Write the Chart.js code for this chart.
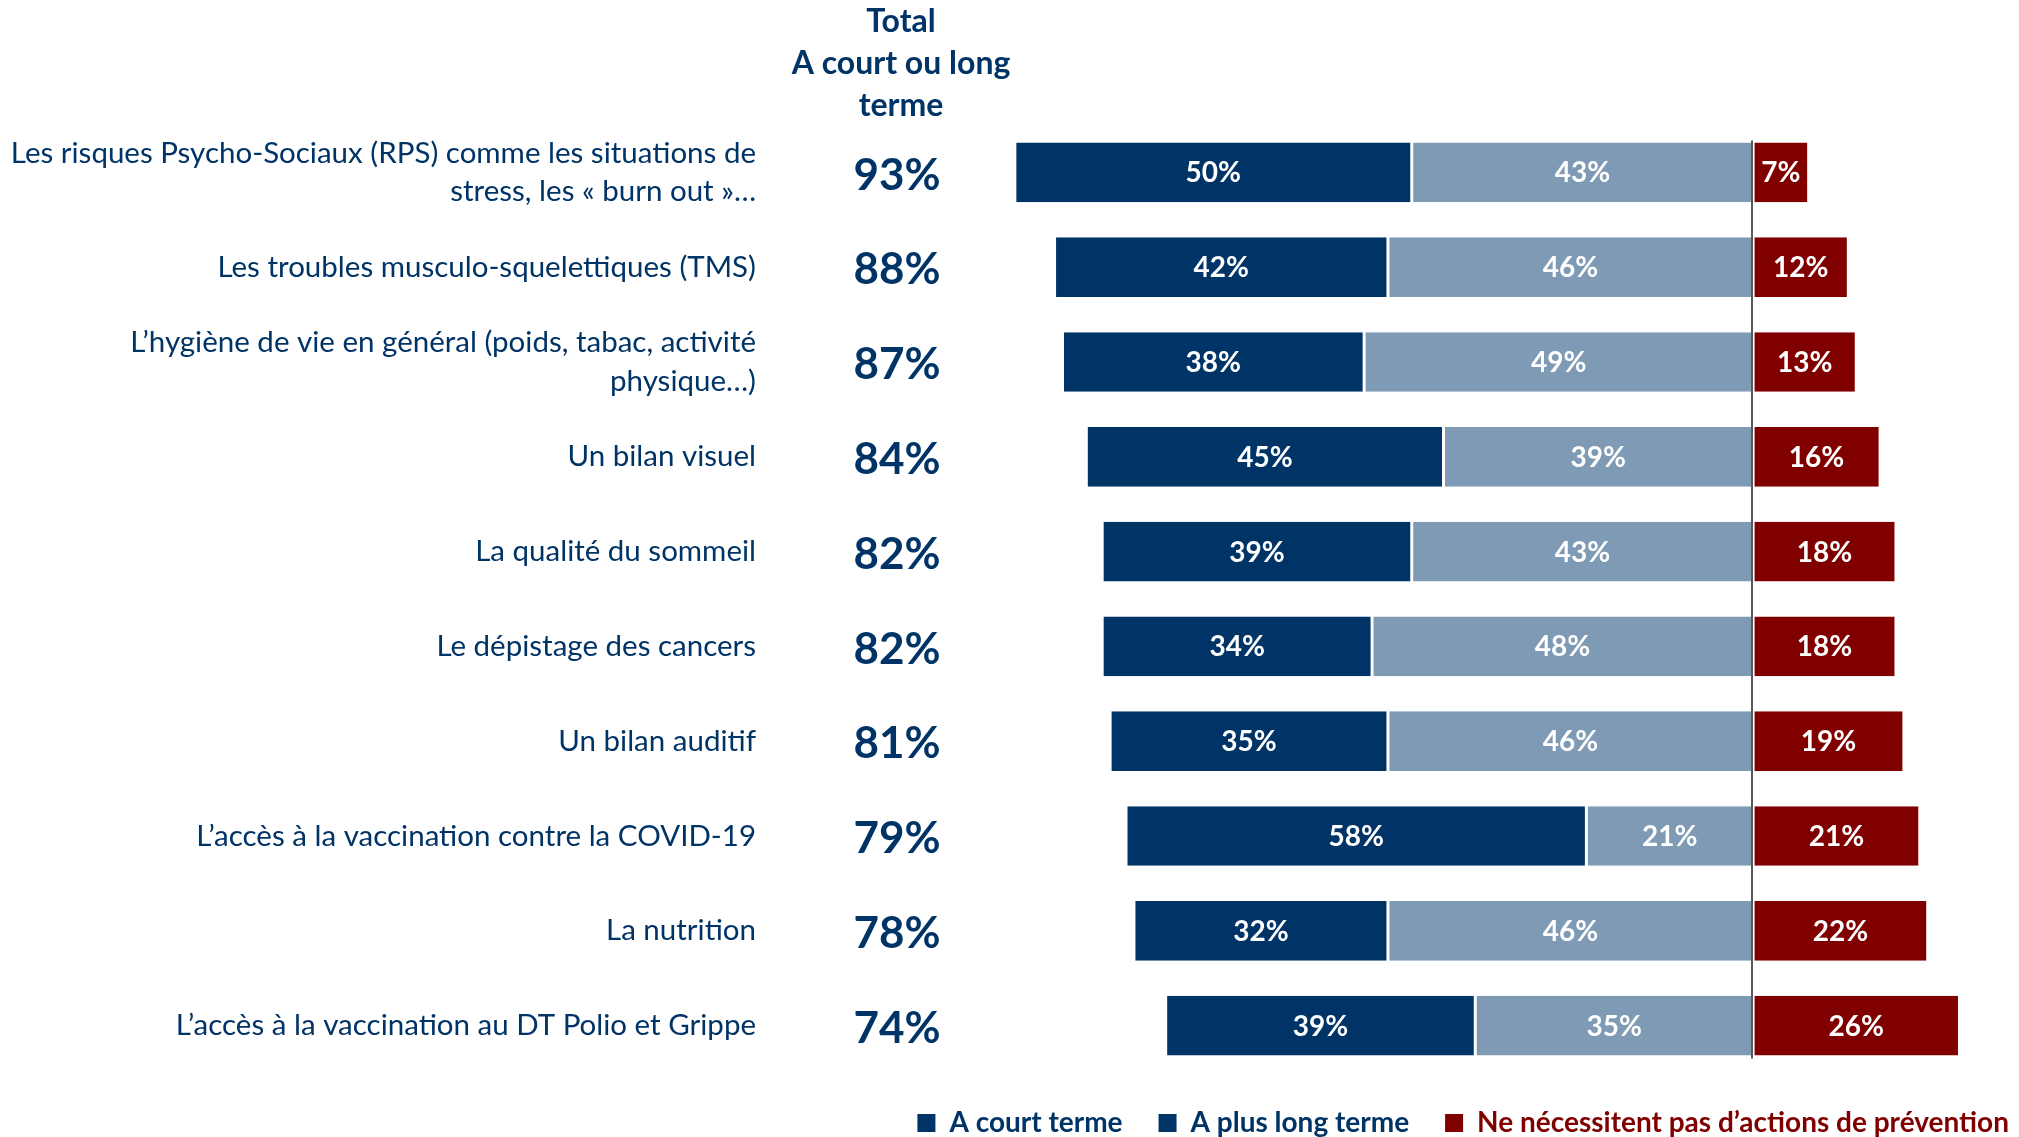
<!DOCTYPE html>
<html>
<head>
<meta charset="utf-8">
<script src="https://cdn.jsdelivr.net/npm/chart.js@4/dist/chart.umd.min.js"></script>
<style>
  html, body { margin: 0; padding: 0; background: #fff; }
  #wrap { width: 2019px; height: 1137px; position: relative; }
</style>
</head>
<body>
<div id="wrap"><canvas id="myChart"></canvas></div>
<script>
// data
const categories = [
  ["Les risques Psycho-Sociaux (RPS) comme les situations de", "stress, les « burn out »…"],
  "Les troubles musculo-squelettiques (TMS)",
  ["L’hygiène de vie en général (poids, tabac, activité", "physique…)"],
  "Un bilan visuel",
  "La qualité du sommeil",
  "Le dépistage des cancers",
  "Un bilan auditif",
  "L’accès à la vaccination contre la COVID-19",
  "La nutrition",
  "L’accès à la vaccination au DT Polio et Grippe"
];
const courtTerme = [50, 42, 38, 45, 39, 34, 35, 58, 32, 39];
const longTerme  = [43, 46, 49, 39, 43, 48, 46, 21, 46, 35];
const pasPrevention = [7, 12, 13, 16, 18, 18, 19, 21, 22, 26];
const totals = [93, 88, 87, 84, 82, 82, 81, 79, 78, 74];
const headerLines = ["Total", "A court ou long", "terme"];
const seriesNames = ["A court terme", "A plus long terme", "Ne nécessitent pas d’actions de prévention"];

const NAVY = "#003366";
const LIGHT = "#7f9ab4";
const RED = "#800000";
const FONT = "Lato, 'Open Sans', sans-serif";

// bars left of zero are drawn as negatives, light one first so it sits next to the line
const neg = a => a.map(v => -v);

const barLabels = {
  id: 'barLabels',
  afterDatasetsDraw(chart) {
    const ctx = chart.ctx;
    ctx.save();
    ctx.font = "bold 28px " + FONT;
    ctx.fillStyle = "#fff";
    ctx.textAlign = "center";
    ctx.textBaseline = "middle";
    chart.data.datasets.forEach((ds, di) => {
      chart.getDatasetMeta(di).data.forEach((el, i) => {
        const v = Math.abs(ds.data[i]);
        ctx.fillText(v + "%", (el.x + el.base) / 2, el.y + 1);
      });
    });
    ctx.restore();
  }
};

const extras = {
  id: 'extras',
  afterDraw(chart) {
    const ctx = chart.ctx;
    const y = chart.scales.y, x = chart.scales.x;
    ctx.save();
    // zero line
    const half = chart.getDatasetMeta(0).data[0].height / 2;
    const x0 = Math.round(x.getPixelForValue(0)) - 1;
    ctx.strokeStyle = "#595959";
    ctx.lineWidth = 2;
    ctx.beginPath();
    ctx.moveTo(x0, y.getPixelForValue(0) - half - 2);
    ctx.lineTo(x0, y.getPixelForValue(categories.length - 1) + half + 3);
    ctx.stroke();
    // totals column
    ctx.fillStyle = NAVY;
    ctx.textAlign = "center";
    ctx.textBaseline = "middle";
    ctx.font = "bold 44px " + FONT;
    totals.forEach((t, i) => ctx.fillText(t + "%", 897, y.getPixelForValue(i) + 3));
    // header
    ctx.font = "bold 32px " + FONT;
    headerLines.forEach((s, i) => ctx.fillText(s, 901, 22 + i * 42));
    ctx.restore();
  }
};

const chart = new Chart(document.getElementById("myChart"), {
  type: "bar",
  data: {
    labels: categories,
    datasets: [
      { label: seriesNames[1], data: neg(longTerme), backgroundColor: LIGHT },
      { label: seriesNames[0], data: neg(courtTerme), backgroundColor: NAVY },
      { label: seriesNames[2], data: pasPrevention, backgroundColor: RED }
    ].map(d => Object.assign(d, {
      borderColor: "#fff", borderWidth: { left: 1.5, right: 1.5, top: 0, bottom: 0 },
      borderSkipped: false, barPercentage: 0.63, categoryPercentage: 1
    }))
  },
  options: {
    indexAxis: "y",
    responsive: true,
    maintainAspectRatio: false,
    animation: false,
    devicePixelRatio: 1,
    // right padding negative so the legend ends at the canvas edge
    layout: { padding: { top: 125, right: -26, left: 0, bottom: 0 } },
    scales: {
      x: { stacked: true, min: -95, max: 33.5, display: false },
      y: {
        stacked: true,
        grid: { display: false, drawTicks: true, tickLength: 237 },
        border: { display: false },
        ticks: {
          autoSkip: false,
          padding: 6,
          color: NAVY,
          font: { family: FONT, size: 29.5, lineHeight: 1.31 }
        },
        afterFit(scale) { scale.width = 999; }
      }
    },
    plugins: {
      tooltip: { enabled: false },
      legend: {
        position: "bottom",
        align: "end",
        maxHeight: 64,
        labels: {
          boxWidth: 18,
          boxHeight: 18,
          padding: 36,
          font: { family: FONT, size: 28, weight: "bold" },
          generateLabels() {
            const cols = [NAVY, NAVY, RED];
            return seriesNames.map((n, i) => ({
              text: n, fillStyle: cols[i], strokeStyle: cols[i],
              fontColor: cols[i], lineWidth: 0, hidden: false, datasetIndex: i
            }));
          }
        }
      }
    }
  },
  plugins: [barLabels, extras]
});
</script>
</body>
</html>
